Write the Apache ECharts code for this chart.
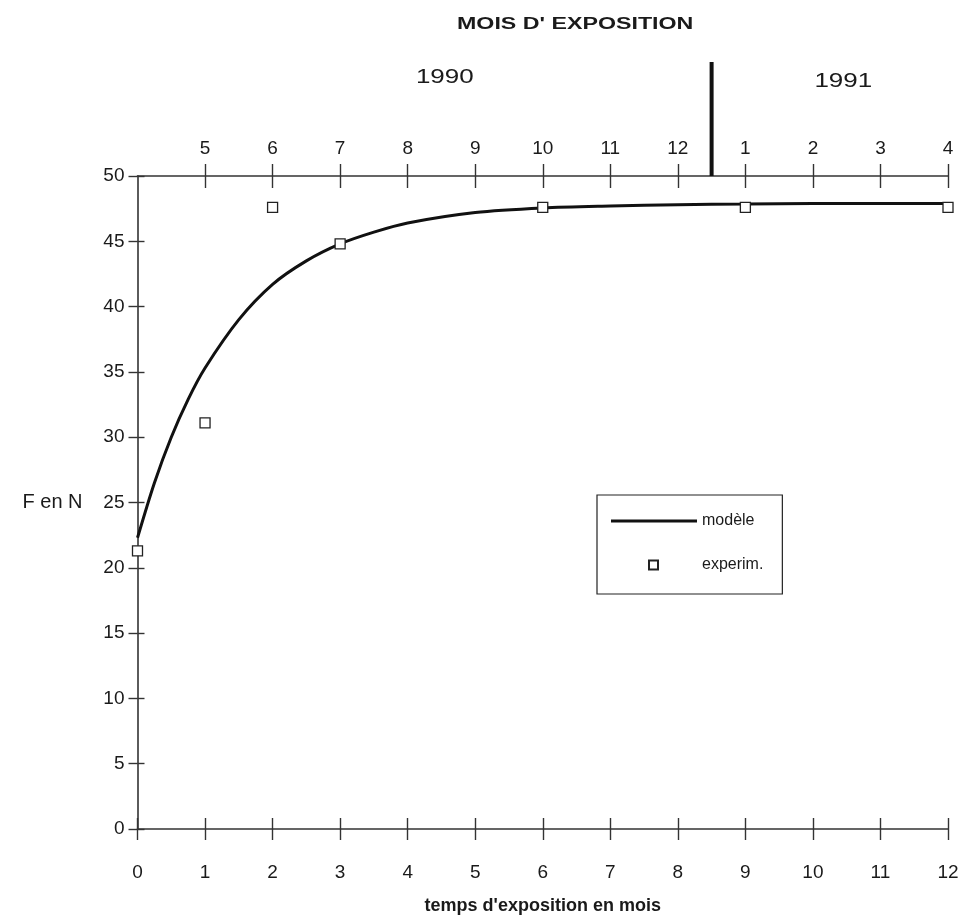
<!DOCTYPE html>
<html>
<head>
<meta charset="utf-8">
<script src="https://cdn.jsdelivr.net/npm/echarts@6/dist/echarts.min.js"></script>
<style>
html,body{margin:0;padding:0;background:#fff;}
#chart{width:968px;height:920px;}
</style>
</head>
<body>
<div id="chart"></div>
<script>
// ---- data ----
var modelX = [0, 0.25, 0.5, 0.75, 1, 1.5, 2, 2.5, 3, 3.5, 4, 5, 6, 7, 8, 9, 10, 11, 12];
var modelY = [22.3, 26.5, 30.0, 32.9, 35.3, 39.0, 41.7, 43.5, 44.8, 45.7, 46.4, 47.2, 47.55, 47.7, 47.8, 47.85, 47.9, 47.9, 47.9];
var expX = [0, 1, 2, 3, 6, 9, 12];
var expY = [21.3, 31.1, 47.6, 44.8, 47.6, 47.6, 47.6];
var bottomTicks = [0, 1, 2, 3, 4, 5, 6, 7, 8, 9, 10, 11, 12];
var topTickPos = [1, 2, 3, 4, 5, 6, 7, 8, 9, 10, 11, 12];
var topMonths = ['5', '6', '7', '8', '9', '10', '11', '12', '1', '2', '3', '4'];
var yearLabels = ['1990', '1991'];
var yearBreak = 8.5;

var FONT = 'Liberation Sans, Arial, Helvetica, sans-serif';
var INK = '#1a1a1a';

var chart = echarts.init(document.getElementById('chart'));

function zip(a, b) { return a.map(function (v, i) { return [v, b[i]]; }); }

var axisLineStyle = { color: '#333', width: 1.6 };
var tickStyle = { color: '#333', width: 1.4 };

var option = {
  backgroundColor: '#fff',
  animation: false,
  grid: { left: 137.5, right: 20, top: 176, bottom: 91, containLabel: false, outerBoundsMode: 'none' },
  legend: {
    orient: 'vertical',
    left: 597,
    top: 495,
    padding: [18, 19, 21, 13],
    itemGap: 28,
    itemWidth: 86,
    itemHeight: 9,
    borderColor: '#222',
    borderWidth: 1.2,
    textStyle: { fontFamily: FONT, fontSize: 16, color: INK },
    data: [
      { name: 'modèle', icon: 'path://M0,0M0,9M0,3h86v3h-86z', itemStyle: { color: '#111' } },
      { name: 'experim.', icon: 'path://M0,0M86,9M38,0h9v9h-9z' }
    ]
  },
  xAxis: [
    {
      type: 'value', position: 'bottom', min: 0, max: 12, interval: 1,
      name: "temps d'exposition en mois", nameLocation: 'middle', nameGap: 68,
      nameTextStyle: { fontFamily: FONT, fontSize: 18, fontWeight: 'bold', color: INK },
      axisLine: { show: true, onZero: false, lineStyle: axisLineStyle },
      axisTick: { show: true, inside: false, length: 11, lineStyle: tickStyle },
      axisLabel: { show: true, margin: 34, fontFamily: FONT, fontSize: 19, color: INK,
        customValues: bottomTicks },
      splitLine: { show: false }
    },
    {
      type: 'value', position: 'bottom', offset: 0, min: 0, max: 12, interval: 1,
      axisLine: { show: false, onZero: false },
      axisTick: { show: true, inside: true, length: 11, lineStyle: tickStyle },
      axisLabel: { show: false },
      splitLine: { show: false }
    },
    {
      type: 'value', position: 'top', offset: 0, min: 0, max: 12, interval: 1,
      axisLine: { show: true, onZero: false, lineStyle: axisLineStyle },
      axisTick: { show: true, inside: false, length: 12, lineStyle: tickStyle, customValues: topTickPos },
      axisLabel: { show: true, margin: 18, fontFamily: FONT, fontSize: 19, color: INK,
        customValues: topTickPos,
        formatter: function (v) { return topMonths[topTickPos.indexOf(v)]; } },
      splitLine: { show: false }
    },
    {
      type: 'value', position: 'top', offset: 0, min: 0, max: 12, interval: 1,
      axisLine: { show: false, onZero: false },
      axisTick: { show: true, inside: true, length: 12, lineStyle: tickStyle, customValues: topTickPos },
      axisLabel: { show: false },
      splitLine: { show: false }
    }
  ],
  yAxis: [
    {
      type: 'value', position: 'left', min: 0, max: 50, interval: 5,
      name: 'F en N', nameLocation: 'middle', nameRotate: 0, nameGap: 55,
      nameTextStyle: { fontFamily: FONT, fontSize: 20, color: INK, align: 'right' },
      axisLine: { show: true, onZero: false, lineStyle: axisLineStyle },
      axisTick: { show: true, inside: false, length: 9, lineStyle: tickStyle },
      axisLabel: { show: true, margin: 13, fontFamily: FONT, fontSize: 19, color: INK },
      splitLine: { show: false }
    },
    {
      type: 'value', position: 'left', offset: 0, min: 0, max: 50, interval: 5,
      axisLine: { show: false, onZero: false },
      axisTick: { show: true, inside: true, length: 7, lineStyle: tickStyle },
      axisLabel: { show: false },
      splitLine: { show: false }
    }
  ],
  series: [
    {
      name: 'modèle', type: 'line', xAxisIndex: 0, yAxisIndex: 0,
      data: zip(modelX, modelY), smooth: 0.3, symbol: 'none', showSymbol: false,
      lineStyle: { color: '#111', width: 3 }, itemStyle: { color: '#111' }, z: 3
    },
    {
      name: 'experim.', type: 'scatter', xAxisIndex: 0, yAxisIndex: 0,
      data: zip(expX, expY), symbol: 'rect', symbolSize: 10,
      itemStyle: { color: '#fff', borderColor: '#222', borderWidth: 1.3, opacity: 1 }, z: 5
    }
  ]
};

chart.setOption(option);

// annotations placed through the axis scales
var bx = chart.convertToPixel({ xAxisIndex: 0 }, yearBreak);
var yTop = chart.convertToPixel({ yAxisIndex: 0 }, 50);
var x1990 = chart.convertToPixel({ xAxisIndex: 0 }, 4.55);
var x1991 = chart.convertToPixel({ xAxisIndex: 0 }, 10.45);
var xMid = chart.convertToPixel({ xAxisIndex: 0 }, 6.48);

chart.setOption({
  graphic: [
    { type: 'line', shape: { x1: bx, y1: yTop - 114, x2: bx, y2: yTop }, style: { stroke: '#111', lineWidth: 4 }, z: 10 },
    { type: 'text', x: xMid, y: 25, scaleX: 1.45, style: { text: "MOIS D' EXPOSITION", x: 0, y: 0, align: 'center', verticalAlign: 'middle', font: 'bold 16px ' + FONT, fill: INK } },
    { type: 'text', x: x1990, y: 77, scaleX: 1.3, style: { text: yearLabels[0], x: 0, y: 0, align: 'center', verticalAlign: 'middle', font: '20px ' + FONT, fill: INK } },
    { type: 'text', x: x1991, y: 81, scaleX: 1.3, style: { text: yearLabels[1], x: 0, y: 0, align: 'center', verticalAlign: 'middle', font: '20px ' + FONT, fill: INK } }
  ]
});
</script>
</body>
</html>
